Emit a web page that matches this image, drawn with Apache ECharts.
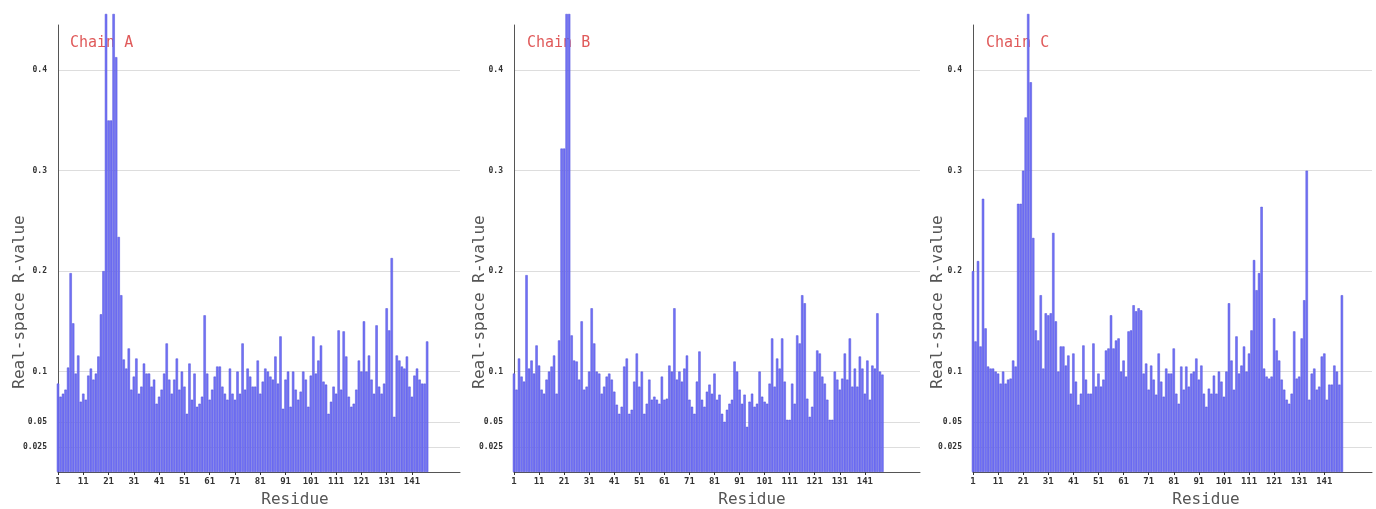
<!DOCTYPE html>
<html>
<head>
<meta charset="utf-8">
<script src="https://cdn.jsdelivr.net/npm/echarts@6/dist/echarts.min.js"></script>
<style>html,body{margin:0;padding:0;background:#fff}#c{width:1376px;height:509px}</style>
</head>
<body>
<div id="c"></div>
<script>
// ---- data ----
const chainNames = ['Chain A', 'Chain B', 'Chain C'];
const yTicks = [0.025, 0.05, 0.1, 0.2, 0.3, 0.4];
const xLabelResidues = [1, 11, 21, 31, 41, 51, 61, 71, 81, 91, 101, 111, 121, 131, 141];
const axisLengthA = 160, axisLengthB = 163, axisLengthC = 160;

const chainA = [
 0.088,0.075,0.078,0.082,0.104,0.198,0.148,0.098,0.116,0.070,
 0.078,0.072,0.096,0.103,0.092,0.098,0.115,0.157,0.200,0.456,
 0.350,0.350,0.456,0.413,0.234,0.176,0.112,0.103,0.123,0.082,
 0.095,0.113,0.078,0.085,0.108,0.098,0.098,0.085,0.092,0.068,
 0.075,0.082,0.098,0.128,0.092,0.078,0.092,0.113,0.082,0.100,
 0.085,0.058,0.108,0.072,0.098,0.065,0.068,0.075,0.156,0.098,
 0.072,0.082,0.095,0.105,0.105,0.085,0.078,0.072,0.103,0.078,
 0.072,0.100,0.078,0.128,0.082,0.103,0.095,0.085,0.085,0.111,
 0.078,0.090,0.103,0.100,0.095,0.092,0.115,0.088,0.135,0.063,
 0.092,0.100,0.065,0.100,0.082,0.072,0.080,0.100,0.092,0.065,
 0.096,0.135,0.098,0.111,0.126,0.090,0.087,0.058,0.070,0.085,
 0.078,0.141,0.082,0.140,0.115,0.075,0.065,0.068,0.082,0.111,
 0.100,0.150,0.100,0.116,0.092,0.078,0.146,0.085,0.078,0.088,
 0.163,0.141,0.213,0.055,0.116,0.111,0.105,0.103,0.115,0.085,
 0.075,0.096,0.103,0.092,0.088,0.088,0.130
];
const chainB = [
 0.098,0.082,0.113,0.095,0.090,0.196,0.103,0.111,0.098,0.126,
 0.106,0.082,0.078,0.092,0.100,0.105,0.116,0.078,0.131,0.322,
 0.322,0.456,0.456,0.136,0.111,0.110,0.092,0.150,0.082,0.085,
 0.100,0.163,0.128,0.100,0.098,0.078,0.085,0.095,0.098,0.092,
 0.080,0.067,0.058,0.065,0.105,0.113,0.058,0.062,0.090,0.118,
 0.085,0.100,0.058,0.068,0.092,0.072,0.075,0.072,0.068,0.095,
 0.072,0.073,0.106,0.100,0.163,0.092,0.100,0.090,0.103,0.116,
 0.072,0.065,0.058,0.090,0.120,0.072,0.065,0.080,0.087,0.078,
 0.098,0.072,0.077,0.058,0.050,0.062,0.068,0.072,0.110,0.100,
 0.082,0.068,0.077,0.045,0.070,0.078,0.065,0.068,0.100,0.075,
 0.070,0.068,0.088,0.133,0.085,0.113,0.103,0.133,0.090,0.052,
 0.052,0.088,0.068,0.136,0.128,0.176,0.168,0.073,0.055,0.065,
 0.100,0.121,0.118,0.095,0.088,0.072,0.052,0.052,0.100,0.092,
 0.082,0.093,0.118,0.092,0.133,0.085,0.103,0.085,0.115,0.103,
 0.078,0.111,0.072,0.106,0.103,0.158,0.100,0.097
];
const chainC = [
 0.200,0.130,0.210,0.125,0.272,0.143,0.105,0.103,0.103,0.100,
 0.098,0.088,0.100,0.088,0.092,0.093,0.111,0.105,0.267,0.267,
 0.300,0.353,0.456,0.388,0.233,0.141,0.131,0.176,0.103,0.158,
 0.156,0.158,0.238,0.150,0.100,0.125,0.125,0.106,0.116,0.078,
 0.118,0.090,0.067,0.078,0.126,0.092,0.078,0.078,0.128,0.085,
 0.098,0.085,0.092,0.121,0.123,0.156,0.123,0.131,0.133,0.100,
 0.111,0.095,0.140,0.141,0.166,0.160,0.163,0.161,0.098,0.108,
 0.082,0.106,0.092,0.077,0.118,0.090,0.075,0.103,0.098,0.098,
 0.123,0.078,0.068,0.105,0.082,0.105,0.085,0.098,0.100,0.113,
 0.092,0.106,0.078,0.065,0.083,0.078,0.096,0.078,0.100,0.090,
 0.075,0.100,0.168,0.111,0.082,0.135,0.098,0.106,0.125,0.100,
 0.118,0.141,0.211,0.181,0.198,0.264,0.103,0.095,0.093,0.095,
 0.153,0.121,0.111,0.092,0.082,0.072,0.068,0.078,0.140,0.093,
 0.095,0.133,0.171,0.300,0.072,0.098,0.103,0.082,0.085,0.115,
 0.118,0.072,0.087,0.087,0.106,0.100,0.087,0.176
];

// ---- layout ----
const panels = [
  {data: chainA, len: axisLengthA, left: 58, right: 916, yname: 20, chainX: 70, resX: 295},
  {data: chainB, len: axisLengthB, left: 514, right: 456, yname: 480, chainX: 527, resX: 752},
  {data: chainC, len: axisLengthC, left: 973, right: 4, yname: 938, chainX: 986, resX: 1206}
];
const yMax = 0.445;
const gridTop = 25, gridBottom = 37;

const grids = [], xAxes = [], yAxes = [], series = [], graphics = [];
panels.forEach((p, i) => {
  grids.push({left: p.left, right: p.right, top: gridTop, bottom: gridBottom, containLabel: false});
  const cats = [];
  for (let r = 1; r <= p.len; r++) cats.push(String(r));
  const showIdx = (idx) => xLabelResidues.indexOf(idx + 1) >= 0;
  xAxes.push({
    type: 'category', gridIndex: i, data: cats, boundaryGap: false,
    axisLine: {lineStyle: {color: '#555', width: 1}},
    axisTick: {show: true, length: 3, interval: showIdx, lineStyle: {color: '#333'}},
    axisLabel: {interval: showIdx, fontFamily: 'DejaVu Sans Mono', fontSize: 9, fontWeight: 'bold', color: '#333', margin: 5},
    splitLine: {show: false}
  });
  yAxes.push({
    type: 'value', gridIndex: i, min: 0, max: yMax,
    axisLine: {show: true, lineStyle: {color: '#555', width: 1}},
    axisTick: {show: false, customValues: yTicks},
    axisLabel: {customValues: yTicks, formatter: v => String(v), fontFamily: 'DejaVu Sans Mono', fontSize: 8, fontWeight: 'bold', color: '#333', margin: 11},
    splitLine: {show: true, lineStyle: {color: '#dddddd', width: 1}}
  });
  series.push({
    type: 'bar', xAxisIndex: i, yAxisIndex: i, data: p.data,
    barCategoryGap: '6%', clip: false,
    itemStyle: {color: '#7373f7', borderColor: '#4e4ed8', borderWidth: 0.5},
    silent: true, animation: false
  });
  graphics.push({
    type: 'text', x: p.chainX, y: 43,
    style: {text: chainNames[i], fill: '#e05a5a', font: '15px "DejaVu Sans Mono"', textVerticalAlign: 'middle'}
  });
  graphics.push({
    type: 'text', x: p.resX, y: 500,
    style: {text: 'Residue', fill: '#555', font: '16px "DejaVu Sans Mono"', textAlign: 'center', textVerticalAlign: 'middle'}
  });
  graphics.push({
    type: 'text', x: p.yname, y: 302, rotation: Math.PI / 2,
    style: {text: 'Real-space R-value', fill: '#555', font: '16px "DejaVu Sans Mono"', textAlign: 'center', textVerticalAlign: 'middle'}
  });
});

const chart = echarts.init(document.getElementById('c'), null, {renderer: 'canvas'});
chart.setOption({
  animation: false,
  backgroundColor: '#ffffff',
  grid: grids, xAxis: xAxes, yAxis: yAxes, series: series, graphic: graphics
});
</script>
</body>
</html>
